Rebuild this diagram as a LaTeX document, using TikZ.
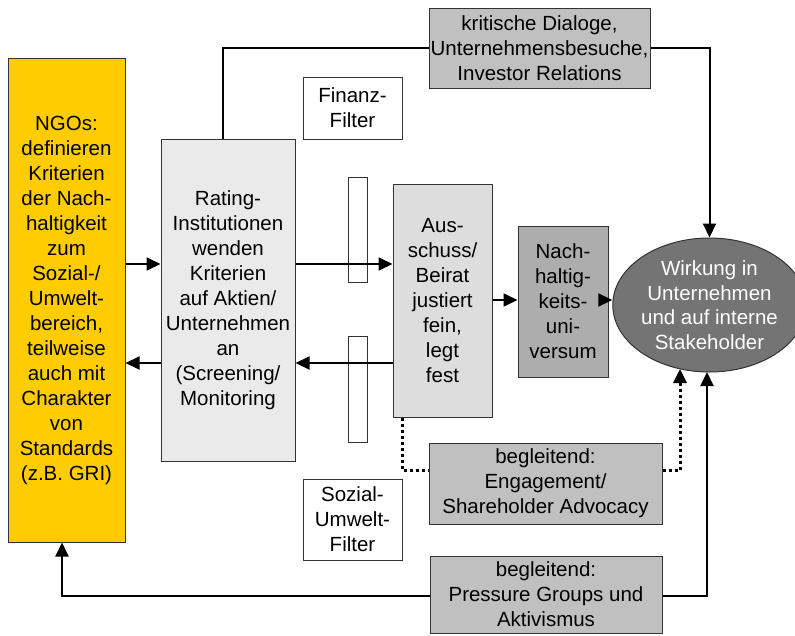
\documentclass[tikz,border=0pt]{standalone}
\usepackage{fontspec}
\setmainfont{Liberation Sans}
\usetikzlibrary{shapes.geometric,arrows.meta}
\definecolor{ngoyellow}{HTML}{FFCC00}
\definecolor{ratinggray}{HTML}{EAEAEA}
\definecolor{ausgray}{HTML}{DDDDDD}
\definecolor{nachgray}{HTML}{ADADAD}
\definecolor{boxgray}{HTML}{C0C0C0}
\definecolor{wirkgray}{HTML}{747474}
\definecolor{edgegray}{HTML}{333333}
\tikzset{
  box/.style={draw=edgegray, line width=1pt, rectangle, inner sep=0pt, align=center,
    font=\fontsize{20.5}{25}\selectfont},
  arr/.style={line width=2pt, -{Triangle[length=14pt,width=13pt]}},
  plain/.style={line width=2pt},
  dotline/.style={line width=3pt, dash pattern=on 3pt off 3pt},
  dotarr/.style={dotline, -{Triangle[length=14pt,width=13pt]}}
}
\begin{document}
\begin{tikzpicture}[x=1pt,y=-1pt]
\useasboundingbox (0,0) rectangle (795,635);
\fill[white] (0,0) rectangle (795,635);

\node[box, fill=ngoyellow, minimum width=117pt, minimum height=484pt] (ngo) at (66.5,300)
  {NGOs:\\definieren\\Kriterien\\der Nach-\\haltigkeit\\zum\\Sozial-/\\Umwelt-\\bereich,\\teilweise\\auch mit\\Charakter\\von\\Standards\\(z.B. GRI)};
\node[box, fill=ratinggray, minimum width=134pt, minimum height=322pt] (rating) at (228,300)
  {Rating-\\Institutionen\\wenden\\Kriterien\\auf Aktien/\\Unternehmen\\an\\(Screening/\\Monitoring};
\node[box, fill=boxgray, minimum width=221pt, minimum height=80pt] (topbox) at (539.5,48)
  {kritische Dialoge,\\Unternehmensbesuche,\\Investor Relations};
\node[box, fill=white, minimum width=99pt, minimum height=62pt] (finanz) at (352.5,108)
  {Finanz-\\Filter};
\node[box, fill=white, minimum width=19pt, minimum height=105pt] (bar1) at (357.5,229.5) {};
\node[box, fill=white, minimum width=19pt, minimum height=106pt] (bar2) at (357.5,389) {};
\node[box, fill=ausgray, minimum width=99pt, minimum height=233pt] (aus) at (442.5,300.5)
  {Aus-\\schuss/\\Beirat\\justiert\\fein,\\legt\\fest};
\node[box, fill=nachgray, minimum width=90pt, minimum height=151pt] (nach) at (563,301.5)
  {Nach-\\haltig-\\keits-\\uni-\\versum};
\node[box, ellipse, fill=wirkgray, text=white, minimum width=167pt, minimum height=134pt,
  font=\fontsize{20.5}{24.5}\selectfont] (wirk) at (709.5,305)
  {Wirkung in\\Unternehmen\\und auf interne\\Stakeholder};
\node[box, fill=boxgray, minimum width=233pt, minimum height=81pt] (eng) at (545.5,483.5)
  {begleitend:\\Engagement/\\Shareholder Advocacy};
\node[box, fill=white, minimum width=99pt, minimum height=81pt] (sozial) at (352.5,519.5)
  {Sozial-\\Umwelt-\\Filter};
\node[box, fill=boxgray, minimum width=232pt, minimum height=77pt] (press) at (546,594.5)
  {begleitend:\\Pressure Groups und\\Aktivismus};

\coordinate (dotend) at (680,369);
\coordinate (solidend) at (707,372);

% horizontal flows
\draw[arr] (ngo.east |- 0,264) -- (rating.west |- 0,264);
\draw[arr] (rating.west |- 0,363) -- (ngo.east |- 0,363);
\draw[arr] (rating.east |- 0,264) -- (aus.west |- 0,264);
\draw[arr] (aus.west |- 0,363) -- (rating.east |- 0,363);
\draw[arr] (aus.east |- 0,300) -- (nach.west |- 0,300);
\draw[arr] (nach.east |- 0,300) -- (wirk.west |- 0,300);

% top loop
\draw[plain] (rating.north -| 223,0) |- (topbox.west);
\draw[arr] (topbox.east) -| (wirk.north);

% dotted engagement loop
\draw[dotline] (aus.south -| 402,0) |- (eng.west |- 0,470);
\draw[dotarr] (eng.east |- 0,470) -| (dotend);

% bottom loop
\draw[arr] (press.west |- 0,596) -| (ngo.south -| 62,0);
\draw[arr] (press.east |- 0,596) -| (solidend);
\end{tikzpicture}
\end{document}
